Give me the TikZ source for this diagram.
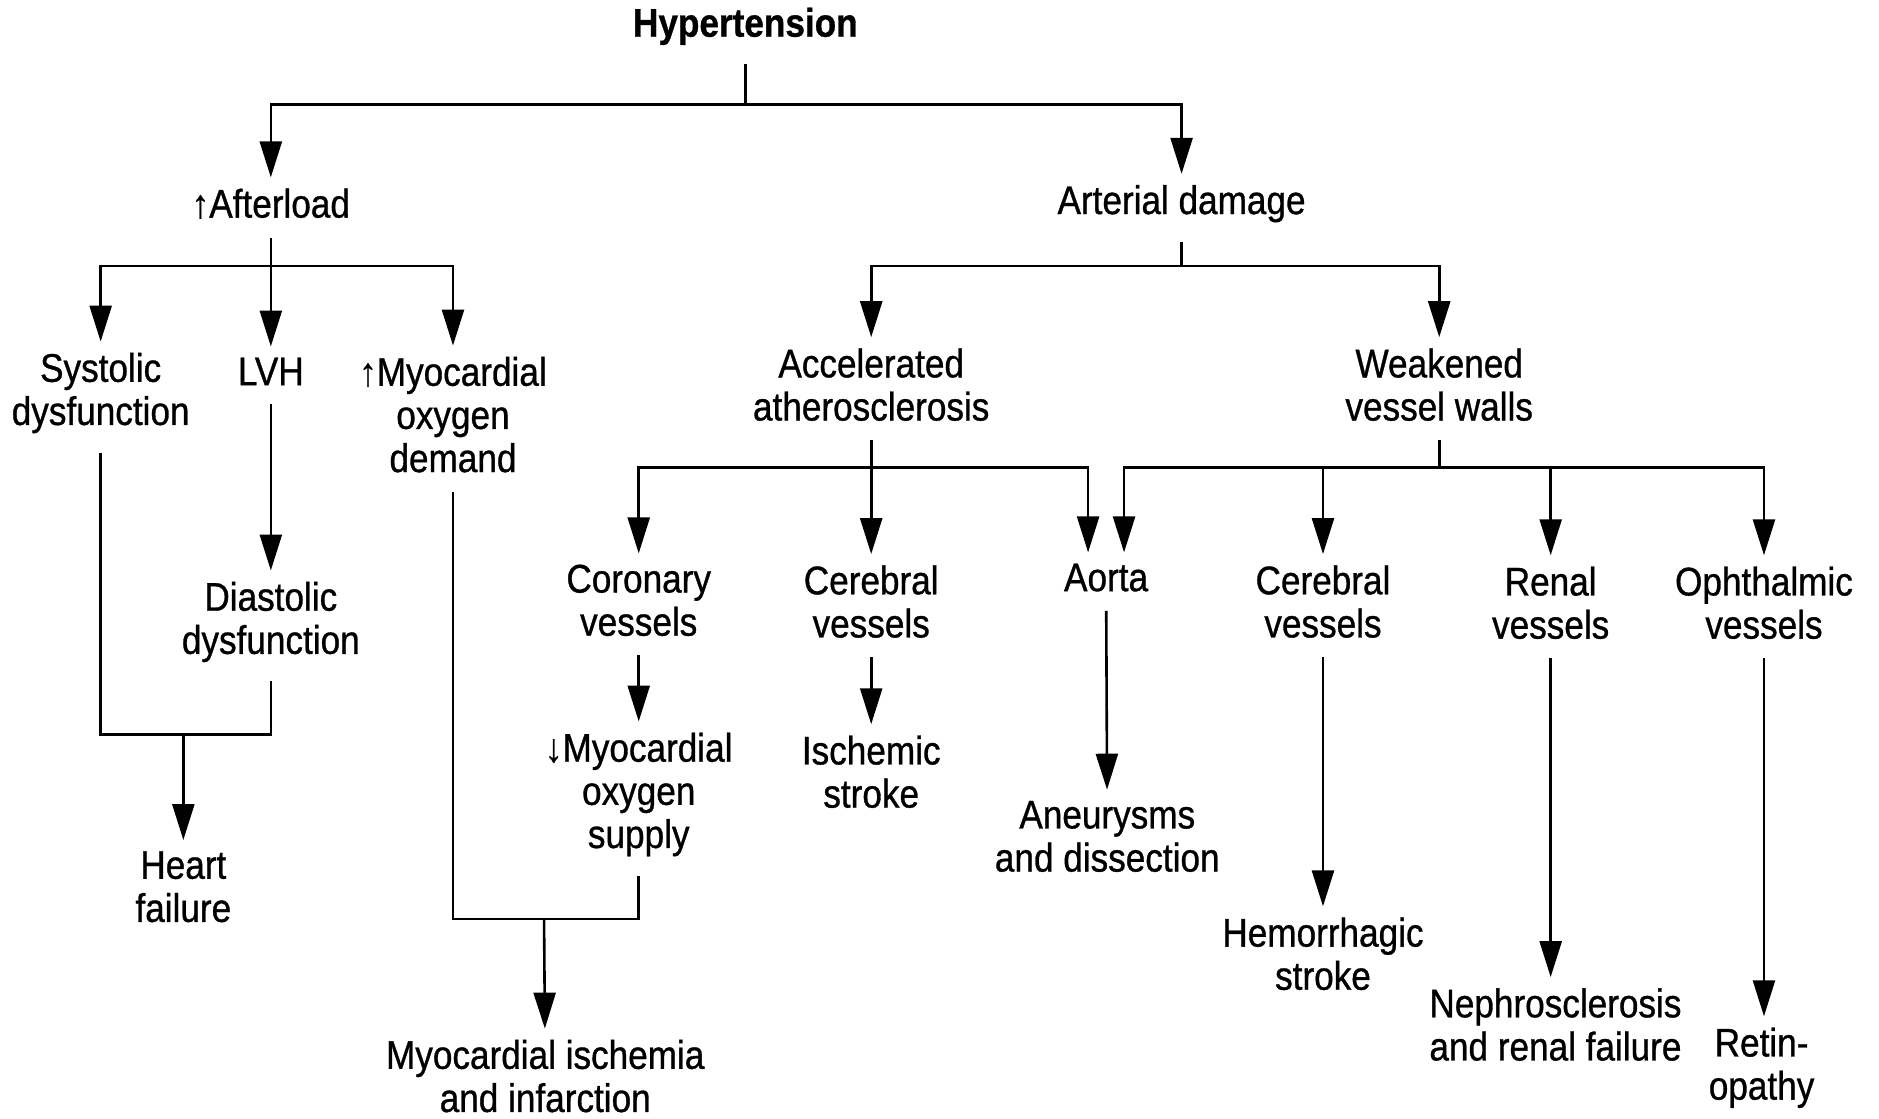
\documentclass[tikz,border=0pt]{standalone}
\usepackage{fontspec}
\setmainfont{Liberation Sans}[FakeStretch=0.88,FakeBold=0.8]
\usetikzlibrary{arrows.meta}
\begin{document}
\begin{tikzpicture}[x=0.6pt,y=-0.6pt,line width=1.3pt,
    font=\fontsize{20pt}{21.6pt}\selectfont,
    lbl/.style={align=center,inner sep=5pt},
    arr/.style={-{Triangle[length=18pt,width=11pt]}},
    stem/.style={shorten <=4pt},
    bracket/.style={shorten <=4pt,shorten >=4pt}]
  \useasboundingbox (0,0) rectangle (1568,933);
  % levels
  \node[lbl] (ht)  at (622,22)  {\bfseries Hypertension};
  \node[lbl] (aft) at (226,170) {↑Afterload};
  \node[lbl] (art) at (986,170) {Arterial damage};
  \node[lbl] (sys) at (84,328)  {Systolic\\dysfunction};
  \node[lbl] (lvh) at (226,310) {LVH};
  \node[lbl] (dem) at (378,346) {↑Myocardial\\oxygen\\demand};
  \node[lbl] (dia) at (226,519) {Diastolic\\dysfunction};
  \node[lbl] (hf)  at (153,740) {Heart\\failure};
  \node[lbl] (acc) at (727,321) {Accelerated\\atherosclerosis};
  \node[lbl] (wk)  at (1201,321) {Weakened\\vessel walls};
  \node[lbl] (cor) at (533,501) {Coronary\\vessels};
  \node[lbl] (cer) at (727,502) {Cerebral\\vessels};
  \node[lbl] (aor) at (923,482) {Aorta};
  \node[lbl] (cerb) at (1104,502) {Cerebral\\vessels};
  \node[lbl] (ren) at (1294,503) {Renal\\vessels};
  \node[lbl] (oph) at (1472,503) {Ophthalmic\\vessels};
  \node[lbl] (sup) at (533,663) {↓Myocardial\\oxygen\\supply};
  \node[lbl] (isc) at (727,644) {Ischemic\\stroke};
  \node[lbl] (mi)  at (455,898) {Myocardial ischemia\\and infarction};
  \node[lbl] (ane) at (924,698) {Aneurysms\\and dissection};
  \node[lbl] (hem) at (1104,796) {Hemorrhagic\\stroke};
  \node[lbl] (nep) at (1298,855) {Nephrosclerosis\\and renal failure};
  \node[lbl] (ret) at (1470,891) {Retin-\\opathy};
  % junctions
  \coordinate (j1) at (622,87);
  \coordinate (j2) at (226,222);
  \coordinate (j3) at (153,613);
  \coordinate (j4) at (454,767);
  \coordinate (j5) at (986,222);
  \coordinate (j6) at (727,390);
  \coordinate (j7) at (1201,390);
  % connectors
  \draw[stem] (ht) -- (j1);
  \draw[arr] (j1) -| (aft);
  \draw[arr] (j1) -| (art);
  \draw[stem,arr] (aft) -- (lvh);
  \draw[arr] (j2) -| (sys);
  \draw[arr] (j2) -| (dem);
  \draw[stem,arr] (lvh) -- (dia);
  \draw[bracket] (sys) |- (j3) -| (dia);
  \draw[arr] (j3) -- (hf);
  \draw[bracket] (dem) |- (j4) -| (sup);
  \draw[arr] (j4) -- (mi);
  \draw[stem] (art) -- (j5);
  \draw[arr] (j5) -| (acc);
  \draw[arr] (j5) -| (wk);
  \draw[stem,arr] (acc) -- (cer);
  \draw[arr] (j6) -| (cor);
  \draw[arr] (j6) -| ([xshift=-9pt]aor.north);
  \draw[stem] (wk) -- (j7);
  \draw[arr] (j7) -| ([xshift=9pt]aor.north);
  \foreach \n in {cerb,ren,oph} \draw[arr] (j7) -| (\n);
  \foreach \a/\b in {cor/sup,cer/isc,aor/ane,cerb/hem} \draw[stem,arr] (\a) -- (\b);
  \draw[stem,arr] (ren) -- (ren |- nep.north);
  \draw[stem,arr] (oph) -- (oph |- ret.north);
\end{tikzpicture}
\end{document}
